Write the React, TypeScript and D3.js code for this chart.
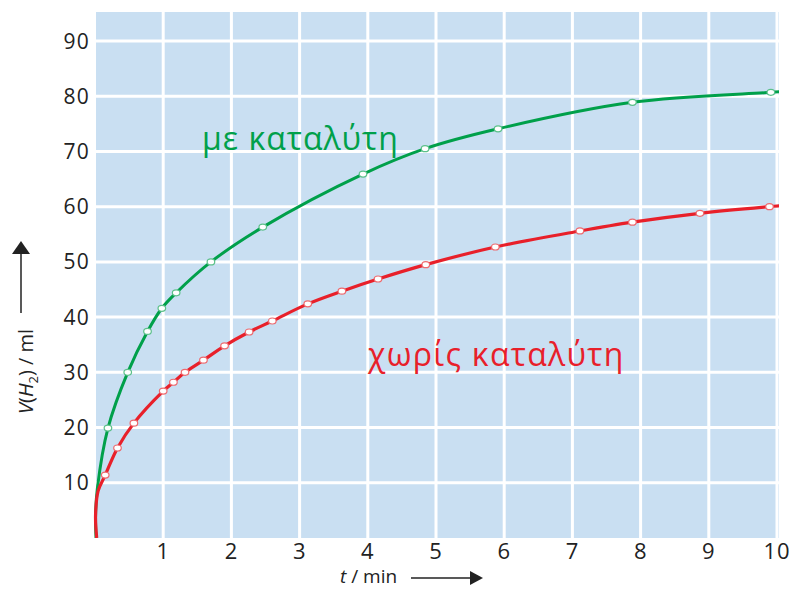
import React from "react";
import * as d3 from "d3";

const xTicks = [1, 2, 3, 4, 5, 6, 7, 8, 9, 10];
const yTicks = [10, 20, 30, 40, 50, 60, 70, 80, 90];

// measured points (t in min, V in ml)
const greenT = [0.19, 0.48, 0.77, 0.98, 1.19, 1.7, 2.46, 3.93, 4.84, 5.91, 7.88, 9.91];
const greenV = [19.9, 30.0, 37.4, 41.6, 44.4, 50.0, 56.3, 65.9, 70.5, 74.1, 78.9, 80.7];
const redT = [0.15, 0.33, 0.57, 1.0, 1.15, 1.32, 1.59, 1.9, 2.26, 2.6, 3.12, 3.62, 4.15, 4.85, 5.87, 7.11, 7.88, 8.87, 9.89];
const redV = [11.4, 16.3, 20.8, 26.6, 28.2, 30.0, 32.2, 34.8, 37.3, 39.3, 42.4, 44.7, 46.9, 49.5, 52.7, 55.6, 57.2, 58.8, 60.0];

// curve start / end pieces
const greenStart: [number, number][] = [[0.015, 0], [0.008, 4], [0.035, 9]];
const greenEnd: [number, number][] = [[10.1, 80.9]];
const redStart: [number, number][] = [[0.025, 0], [0.008, 4], [0.045, 8.5]];
const redEnd: [number, number][] = [[10.1, 60.2]];

const GREEN = "#00a04a";
const RED = "#e8202a";
const BG = "#c9dff2";

const W = 789;
const H = 589;
const plotL = 96, plotR = 779, plotT = 12, plotB = 538;

export default function App() {
  const x = d3.scaleLinear().domain([0, 10]).range([95, 777]);
  const y = d3.scaleLinear().domain([0, 90]).range([538, 41]);
  const line = d3
    .line<[number, number]>()
    .x((d) => x(d[0]))
    .y((d) => y(d[1]))
    .curve(d3.curveCatmullRom.alpha(0.5));

  const gPts: [number, number][] = greenT.map((t, i) => [t, greenV[i]]);
  const rPts: [number, number][] = redT.map((t, i) => [t, redV[i]]);
  const gPath = line([...greenStart, ...gPts, ...greenEnd]) || "";
  const rPath = line([...redStart, ...rPts, ...redEnd]) || "";

  const font = "'Open Sans', 'Noto Sans', sans-serif";

  return (
    <svg
      width={W}
      height={H}
      style={{ position: "absolute", left: 0, top: 0, background: "#fff" }}
      fontFamily={font}
    >
      <defs>
        <clipPath id="plotclip">
          <rect x={plotL - 3} y={plotT} width={plotR - plotL + 3} height={plotB - plotT} />
        </clipPath>
      </defs>
      <rect x={plotL} y={plotT} width={plotR - plotL} height={plotB - plotT} fill={BG} />
      {xTicks.map((t) => (
        <line key={"gx" + t} x1={x(t)} x2={x(t)} y1={plotT} y2={plotB} stroke="#fff" strokeWidth={3} />
      ))}
      {yTicks.map((v) => (
        <line key={"gy" + v} x1={plotL} x2={plotR} y1={y(v)} y2={y(v)} stroke="#fff" strokeWidth={3} />
      ))}
      <g clipPath="url(#plotclip)">
        <path d={gPath} fill="none" stroke={GREEN} strokeWidth={3} />
        <path d={rPath} fill="none" stroke={RED} strokeWidth={3.2} />
      </g>
      {gPts.map((d, i) => (
        <ellipse key={"gp" + i} cx={x(d[0])} cy={y(d[1])} rx={3.8} ry={3} fill="#fff" stroke="#5cc08a" strokeWidth={1.2} />
      ))}
      {rPts.map((d, i) => (
        <ellipse key={"rp" + i} cx={x(d[0])} cy={y(d[1])} rx={3.8} ry={3} fill="#fff" stroke="#ee6a6f" strokeWidth={1.2} />
      ))}
      {yTicks.map((v) => (
        <text key={"ty" + v} x={90} y={y(v) + 7.5} textAnchor="end" fontSize={21} letterSpacing={1.2} fill="#222">
          {v}
        </text>
      ))}
      {xTicks.map((t) => (
        <text key={"tx" + t} x={x(t)} y={559} textAnchor="middle" fontSize={22} letterSpacing={0.8} fill="#222">
          {t}
        </text>
      ))}
      <text x={340} y={583} fontSize={19} fill="#222">
        <tspan fontStyle="italic">t</tspan> / min
      </text>
      <line x1={411} x2={472} y1={578} y2={578} stroke="#222" strokeWidth={1.5} />
      <path d="M470,571 L483,578 L470,585 Z" fill="#222" />
      <g transform="translate(33,414) rotate(-90)">
        <text x={0} y={0} fontSize={20} fill="#222">
          <tspan fontStyle="italic">V</tspan>
          <tspan>(</tspan>
          <tspan fontStyle="italic">H</tspan>
          <tspan fontSize={13} dy={5}>2</tspan>
          <tspan dy={-5}>) / ml</tspan>
        </text>
      </g>
      <line x1={21} x2={21} y1={313} y2={252} stroke="#222" strokeWidth={1.5} />
      <path d="M12,254 L21,241 L30,254 Z" fill="#222" />
      <text x={202} y={150} fontSize={32} letterSpacing={1} fill={GREEN}>
        με καταλύτη
      </text>
      <text x={368} y={366} fontSize={32} letterSpacing={1.3} fill={RED}>
        χωρίς καταλύτη
      </text>
    </svg>
  );
}
